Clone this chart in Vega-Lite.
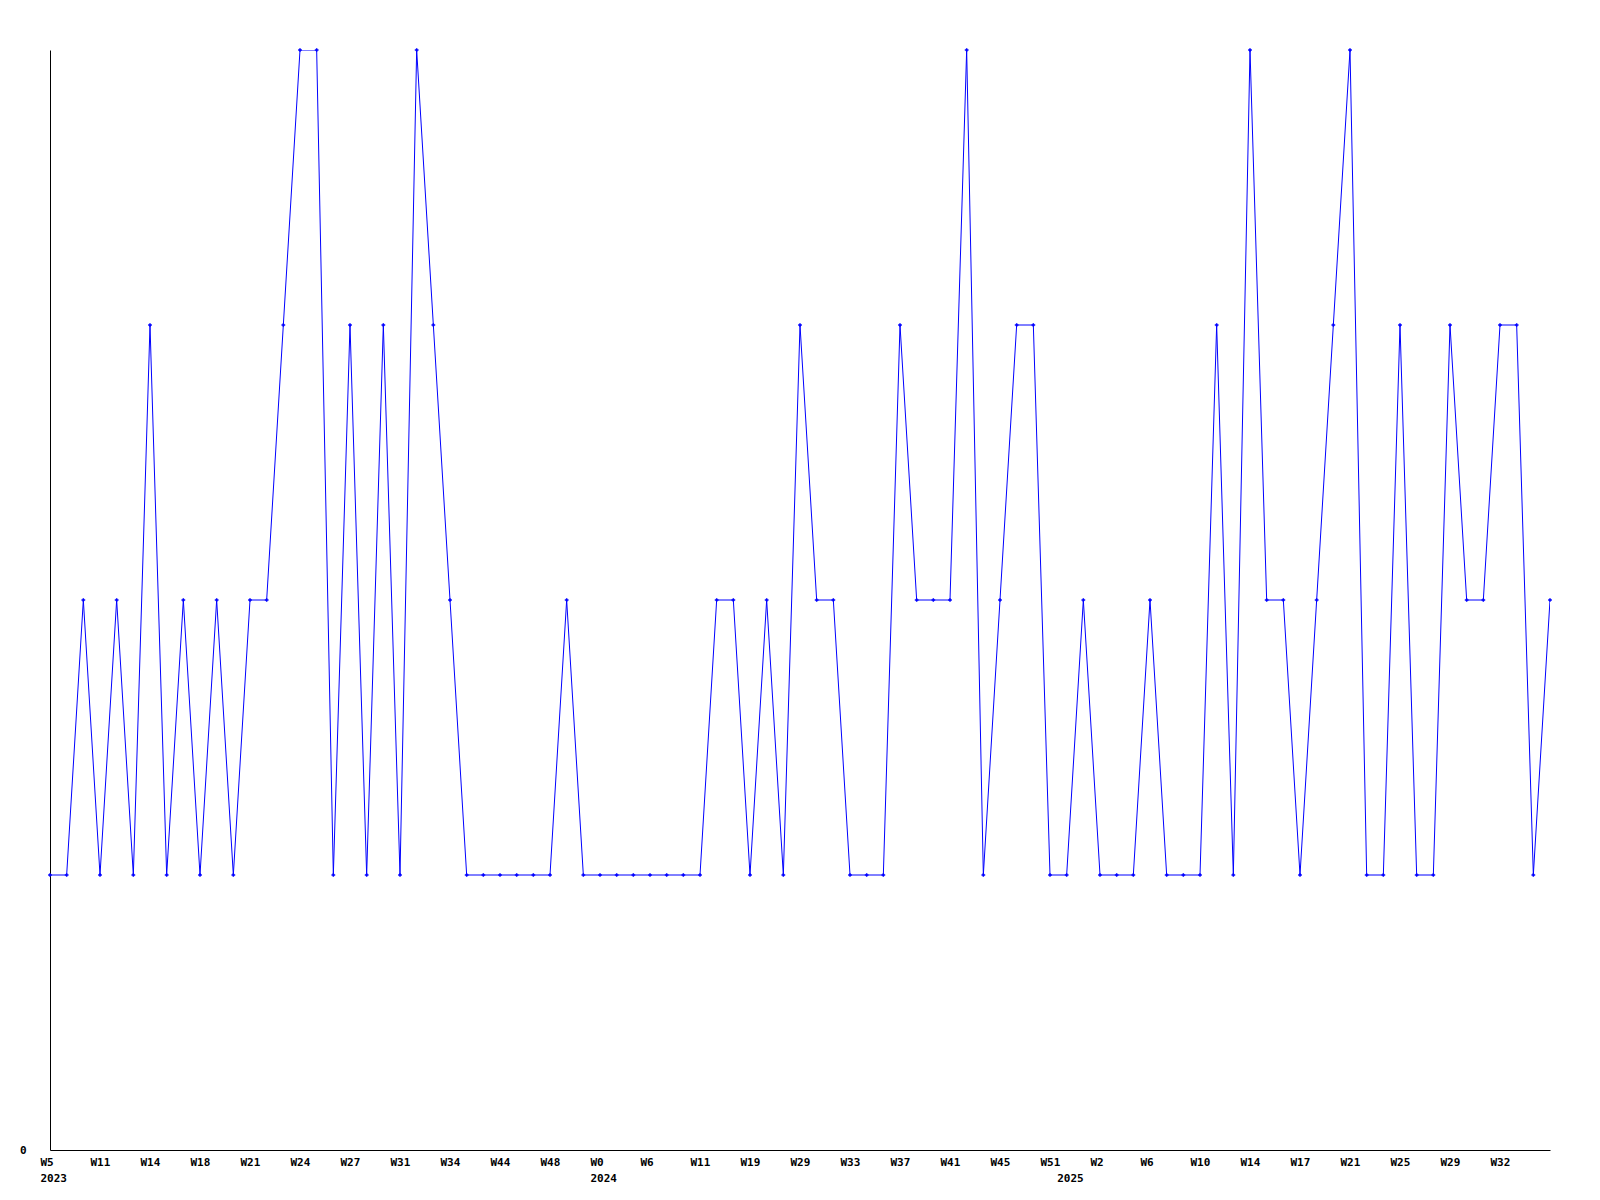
{
  "$schema": "https://vega.github.io/schema/vega-lite/v6.json",
  "width": 1500,
  "height": 1100,
  "autosize": "none",
  "padding": {"left": 50, "top": 50, "right": 50, "bottom": 50},
  "background": "white",
  "config": {
    "view": {"stroke": null},
    "axis": {
      "labelFont": "DejaVu Sans Mono",
      "labelFontWeight": "bold",
      "labelFontSize": 11,
      "labelColor": "black",
      "domainColor": "black",
      "domainWidth": 1,
      "ticks": false,
      "grid": false,
      "title": null
    }
  },
  "data": {
    "values": [
      {"week": "2023-W05", "value": 1}, {"week": "2023-W07", "value": 1}, {"week": "2023-W09", "value": 2},
      {"week": "2023-W11", "value": 1}, {"week": "2023-W12", "value": 2}, {"week": "2023-W13", "value": 1},
      {"week": "2023-W14", "value": 3}, {"week": "2023-W15", "value": 1}, {"week": "2023-W17", "value": 2},
      {"week": "2023-W18", "value": 1}, {"week": "2023-W19", "value": 2}, {"week": "2023-W20", "value": 1},
      {"week": "2023-W21", "value": 2}, {"week": "2023-W22", "value": 2}, {"week": "2023-W23", "value": 3},
      {"week": "2023-W24", "value": 4}, {"week": "2023-W25", "value": 4}, {"week": "2023-W26", "value": 1},
      {"week": "2023-W27", "value": 3}, {"week": "2023-W28", "value": 1}, {"week": "2023-W30", "value": 3},
      {"week": "2023-W31", "value": 1}, {"week": "2023-W32", "value": 4}, {"week": "2023-W33", "value": 3},
      {"week": "2023-W34", "value": 2}, {"week": "2023-W37", "value": 1}, {"week": "2023-W40", "value": 1},
      {"week": "2023-W44", "value": 1}, {"week": "2023-W45", "value": 1}, {"week": "2023-W47", "value": 1},
      {"week": "2023-W48", "value": 1}, {"week": "2023-W50", "value": 2}, {"week": "2023-W52", "value": 1},
      {"week": "2024-W00", "value": 1}, {"week": "2024-W02", "value": 1}, {"week": "2024-W04", "value": 1},
      {"week": "2024-W06", "value": 1}, {"week": "2024-W08", "value": 1}, {"week": "2024-W09", "value": 1},
      {"week": "2024-W11", "value": 1}, {"week": "2024-W14", "value": 2}, {"week": "2024-W16", "value": 2},
      {"week": "2024-W19", "value": 1}, {"week": "2024-W22", "value": 2}, {"week": "2024-W26", "value": 1},
      {"week": "2024-W29", "value": 3}, {"week": "2024-W30", "value": 2}, {"week": "2024-W31", "value": 2},
      {"week": "2024-W33", "value": 1}, {"week": "2024-W34", "value": 1}, {"week": "2024-W35", "value": 1},
      {"week": "2024-W37", "value": 3}, {"week": "2024-W38", "value": 2}, {"week": "2024-W40", "value": 2},
      {"week": "2024-W41", "value": 2}, {"week": "2024-W42", "value": 4}, {"week": "2024-W43", "value": 1},
      {"week": "2024-W45", "value": 2}, {"week": "2024-W47", "value": 3}, {"week": "2024-W49", "value": 3},
      {"week": "2024-W51", "value": 1}, {"week": "2025-W00", "value": 1}, {"week": "2025-W01", "value": 2},
      {"week": "2025-W02", "value": 1}, {"week": "2025-W03", "value": 1}, {"week": "2025-W05", "value": 1},
      {"week": "2025-W06", "value": 2}, {"week": "2025-W07", "value": 1}, {"week": "2025-W08", "value": 1},
      {"week": "2025-W10", "value": 1}, {"week": "2025-W11", "value": 3}, {"week": "2025-W13", "value": 1},
      {"week": "2025-W14", "value": 4}, {"week": "2025-W15", "value": 2}, {"week": "2025-W16", "value": 2},
      {"week": "2025-W17", "value": 1}, {"week": "2025-W18", "value": 2}, {"week": "2025-W20", "value": 3},
      {"week": "2025-W21", "value": 4}, {"week": "2025-W22", "value": 1}, {"week": "2025-W23", "value": 1},
      {"week": "2025-W25", "value": 3}, {"week": "2025-W26", "value": 1}, {"week": "2025-W27", "value": 1},
      {"week": "2025-W29", "value": 3}, {"week": "2025-W30", "value": 2}, {"week": "2025-W31", "value": 2},
      {"week": "2025-W32", "value": 3}, {"week": "2025-W33", "value": 3}, {"week": "2025-W34", "value": 1},
      {"week": "2025-W35", "value": 2}
    ]
  },
  "layer": [
    {
      "mark": {"type": "line", "color": "#0000ff", "strokeWidth": 1, "clip": true},
      "encoding": {
        "x": {
          "field": "week", "type": "ordinal", "sort": null,
          "scale": {"type": "point", "padding": 0},
          "axis": {
            "orient": "bottom",
            "values": ["2023-W05","2023-W11","2023-W14","2023-W18","2023-W21","2023-W24","2023-W27","2023-W31","2023-W34","2023-W44","2023-W48","2024-W00","2024-W06","2024-W11","2024-W19","2024-W29","2024-W33","2024-W37","2024-W41","2024-W45","2024-W51","2025-W02","2025-W06","2025-W10","2025-W14","2025-W17","2025-W21","2025-W25","2025-W29","2025-W32"],
            "labelExpr": "'W' + toNumber(slice(datum.value, 6))",
            "labelAlign": "left",
            "labelOffset": -10,
            "labelPadding": 6,
            "labelAngle": 0,
            "labelOverlap": false
          }
        },
        "y": {
          "field": "value", "type": "quantitative",
          "scale": {"domain": [0, 4], "nice": false, "zero": true},
          "axis": {"values": [0], "format": "d", "labelPadding": 24, "labelBaseline": "middle"}
        }
      }
    },
    {
      "mark": {"type": "point", "shape": "cross", "size": 14, "filled": true, "color": "#0000ff", "opacity": 1},
      "encoding": {
        "x": {
          "field": "week", "type": "ordinal", "sort": null,
          "scale": {"type": "point", "padding": 0},
          "axis": {
            "orient": "bottom",
            "values": ["2023-W05", "2024-W00", "2025-W00"],
            "labelExpr": "slice(datum.value, 0, 4)",
            "labelAlign": "left",
            "labelOffset": -10,
            "labelPadding": 22,
            "labelAngle": 0,
            "labelOverlap": false,
            "domain": false
          }
        },
        "y": {"field": "value", "type": "quantitative"}
      }
    }
  ],
  "resolve": {"axis": {"x": "independent"}}
}
